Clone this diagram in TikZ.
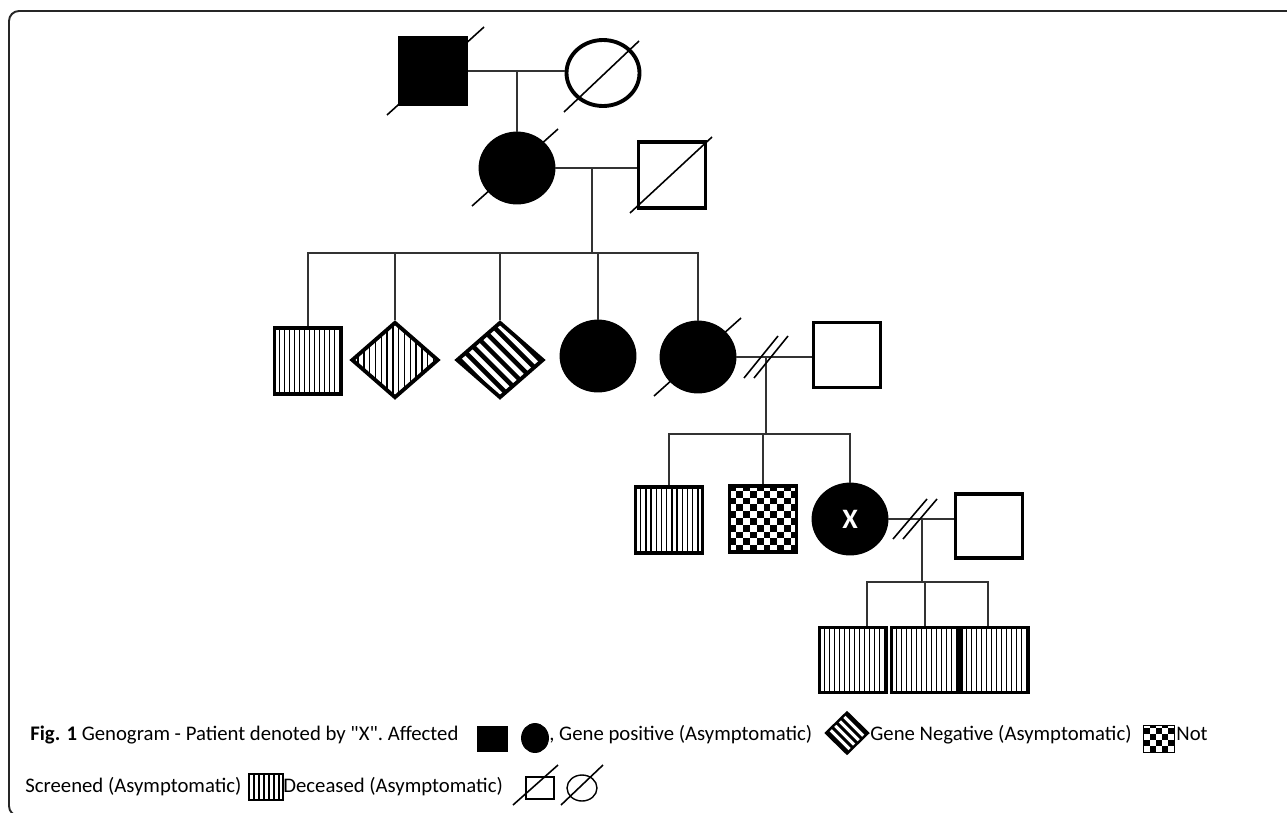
\documentclass[tikz,border=0pt]{standalone}
\usepackage{fontspec}
\setmainfont{Carlito}
\usetikzlibrary{shapes.geometric,calc,positioning}
\tikzset{
  sym/.style={draw,line width=2.2pt,inner sep=0pt,fill=white},
  male/.style={sym,rectangle,minimum width=1.34cm,minimum height=1.32cm},
  female/.style={sym,ellipse,minimum width=1.46cm,minimum height=1.38cm},
  sexless/.style={sym,diamond,minimum width=1.74cm,minimum height=1.52cm},
  affected/.style={fill=black},
  line/.style={draw=black!80,line width=0.9pt},
  slash/.style={draw=black,line width=0.9pt},
  frame/.style={draw=black!85,line width=1.1pt,rounded corners=0.2cm},
  caption/.style={anchor=base west,inner sep=0pt,font=\fontsize{11.8pt}{14pt}\selectfont},
  vstripes/.style 2 args={path picture={
      \foreach \i in {1,...,#1}
        \draw[black,line width=0.7pt] ([xshift=\i*#2]path picture bounding box.south west)
          -- ([xshift=\i*#2]path picture bounding box.north west);}},
  dstripes/.style 2 args={path picture={
      \foreach \i in {-6,...,6}
        \draw[black,line width=#2] ($(path picture bounding box.center)+(\i*#1,\i*#1)+(-2cm,2cm)$)
          -- ++(4cm,-4cm);}},
  checker/.style 2 args={path picture={
      \foreach \row in {0,...,#1} \foreach \col in {0,...,#1} {
        \pgfmathtruncatemacro\odd{mod(\row+\col,2)}
        \ifnum\odd=1
          \fill[black] ([shift={(\col*#2,\row*#2)}]path picture bounding box.south west) rectangle ++(#2,#2);
        \fi}}}
}

\begin{document}
\begin{tikzpicture}[x=0.02cm,y=-0.02cm]
  \useasboundingbox (0,0) rectangle (1287,812);
  \draw[frame] (1300,11) -- (9,11) -- (9,816) -- (1300,816);

  % First generation
  \node[male,affected] (gf) at (433,71) {};
  \node[female,minimum height=1.32cm] (gm) at (603,73) {};
  \coordinate (m1) at (517,72);

  % Second generation
  \node[female,affected] (mo) at (517,168) {};
  \node[male] (fa) at (672,175) {};
  \coordinate (m2) at (592,168);
  \coordinate (s3) at (592,253);

  % Third generation
  \node[male,vstripes={13}{0.1cm}] (c1) at (308,361) {};
  \node[sexless,vstripes={14}{0.116cm}] (c2) at (395,360) {};
  \node[sexless,dstripes={0.134cm}{2.6pt}] (c3) at (500,360) {};
  \node[female,affected] (c4) at (598,356) {};
  \node[female,affected] (c5) at (698,357) {};
  \node[male,minimum height=1.3cm] (sp1) at (847,355) {};
  \coordinate (m3) at (766,357);
  \coordinate (s4) at (766,434);

  % Fourth generation, the patient
  \node[male,vstripes={12}{0.104cm}] (g1) at (669,520) {};
  \node[male,checker={9}{0.136cm}] (g2) at (763,519) {};
  \node[female,affected,text=white,font=\bfseries\fontsize{16pt}{16pt}\selectfont] (g3) at (850,519) {X};
  \node[male,minimum height=1.28cm] (sp2) at (989,526) {};
  \coordinate (m4) at (922,519);
  \coordinate (s5) at (922,582);

  % Fifth generation
  \foreach \n/\x in {k1/853,k2/925,k3/995}
    \node[male,minimum height=1.3cm,vstripes={13}{0.1cm}] (\n) at (\x,660) {};

  % Couples and descent lines
  \draw[line] (gf.east) -- (gf.east -| gm.west);
  \draw[line] (m1) -- (mo.north);
  \draw[line] (mo.east) -- (mo.east -| fa.west);
  \draw[line] (m2) -- (s3);
  \draw[line] (c1.north) |- (s3) -| (c5.north);
  \foreach \c in {c2,c3,c4}
    \draw[line] (\c.north) -- (\c.north |- s3);
  \draw[line] (c5.east) -- (c5.east -| sp1.west);
  \draw[line] (m3) -- (s4);
  \draw[line] (g1.north) |- (s4) -| (g3.north);
  \draw[line] (g2.north) -- (g2.north |- s4);
  \draw[line] (g3.east) -- (g3.east -| sp2.west);
  \draw[line] (m4) -- (s5);
  \draw[line] ($(k1.north)+(14,0)$) |- (s5) -| ($(k3.north)+(-7,0)$);
  \draw[line] (k2.north) -- (k2.north |- s5);

  % Deceased and separated
  \draw[slash] ($(gf.center)+(-46,44)$) -- ($(gf.center)+(51,-44)$);
  \draw[slash] ($(gm.center)+(-39,39)$) -- ($(gm.center)+(36,-32)$);
  \draw[slash] ($(mo.center)+(-45,38)$) -- ($(mo.center)+(41,-39)$);
  \draw[slash] ($(fa.center)+(-42,38)$) -- ($(fa.center)+(40,-38)$);
  \draw[slash] ($(c5.center)+(-44,39)$) -- ($(c5.center)+(43,-39)$);
  \foreach \dx in {-5,5} {
    \draw[slash] ($(m3)+(\dx-17,21)$) -- ++(34,-42);
    \draw[slash] ($(m4)+(\dx-24,20)$) -- ++(34,-40);
  }

  % Legend
  \node[caption] (cap1) at (30,740) {\textbf{Fig. 1} Genogram - Patient denoted by \textquotedbl X\textquotedbl. Affected};
  \node[male,affected,line width=0.5pt,minimum width=0.6cm,minimum height=0.5cm] (lsq) at (492,739) {};
  \node[female,affected,line width=0.5pt,minimum width=0.54cm,minimum height=0.58cm] (lci) at (535,738) {};
  \node[caption] (cap2) at (549,740) {, Gene positive (Asymptomatic)};
  \node[sexless,line width=1.4pt,minimum width=0.86cm,minimum height=0.84cm,dstripes={0.09cm}{1.8pt}] (ldi) at (847,733) {};
  \node[caption] (cap3) at (870,740) {Gene Negative (Asymptomatic)};
  \node[male,line width=1pt,minimum width=0.62cm,minimum height=0.54cm,checker={4}{0.124cm}] (lch) at (1159,739) {};
  \node[caption] (cap4) at (1176,740) {Not};
  \node[caption] (cap5) at (25,792) {Screened (Asymptomatic)};
  \node[male,line width=1.4pt,minimum width=0.68cm,minimum height=0.52cm,vstripes={6}{0.1cm}] (lst) at (266,787) {};
  \node[caption] (cap6) at (283,792) {Deceased (Asymptomatic)};
  \node[male,line width=0.8pt,minimum width=0.56cm,minimum height=0.44cm] (lde) at (540,788) {};
  \node[female,line width=0.8pt,minimum width=0.6cm,minimum height=0.52cm] (lci2) at (582,788) {};
  \draw[line,black] ($(lde.center)+(-27,17)$) -- ($(lde.center)+(18,-23)$);
  \draw[line,black] ($(lci2.center)+(-21,17)$) -- ($(lci2.center)+(21,-23)$);
\end{tikzpicture}
\end{document}
